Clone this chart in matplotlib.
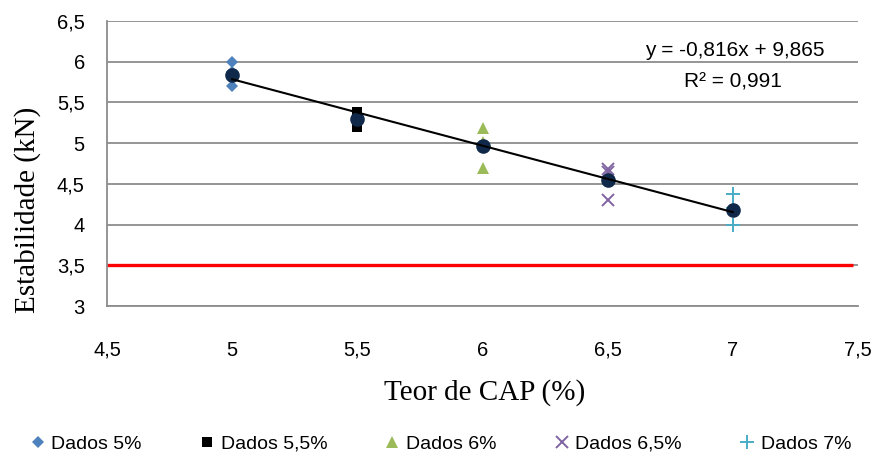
import matplotlib
matplotlib.use("Agg")
import matplotlib.pyplot as plt
import numpy as np

# Data
teor = [5.0, 5.5, 6.0, 6.5, 7.0]
dados_5 = [6.00, 5.87, 5.70]
dados_55 = [5.38, 5.30, 5.20]
dados_6 = [5.18, 5.02, 4.70]
dados_65 = [4.68, 4.64, 4.30]
dados_7 = [4.38, 4.20, 4.00]
medias = [5.84, 5.30, 4.96, 4.55, 4.18]
slope = -0.816
intercept = 9.865
limite = 3.5
series_labels = ["Dados 5%", "Dados 5,5%", "Dados 6%", "Dados 6,5%", "Dados 7%"]
x_ticks = [4.5, 5, 5.5, 6, 6.5, 7, 7.5]
y_ticks = [3, 3.5, 4, 4.5, 5, 5.5, 6, 6.5]

sans = ["Liberation Sans", "DejaVu Sans"]
serif = ["Liberation Serif", "DejaVu Serif"]

def fmt(v):
    return ("%g" % v).replace(".", ",")

W, H = 876, 457
fig = plt.figure(figsize=(W / 100, H / 100), dpi=100)
ax = fig.add_axes([107 / W, 1 - 306 / H, 751 / W, 285 / H])

grid_c = "#8c8c8c"
for yv in y_ticks:
    ax.axhline(yv, color=grid_c, lw=1.3, zorder=1)

ax.plot([4.5, 7.48], [limite, limite], color="#ff0000", lw=2.4, zorder=2, solid_capstyle="butt")

styles = [
    dict(marker="D", color="#4f81bd", ms=6, mew=0),
    dict(marker="s", color="#000000", ms=7, mew=0),
    dict(marker="^", color="#9bbb59", ms=9, mew=0),
    dict(marker="x", color="#8064a2", ms=9, mew=1.4),
    dict(marker="+", color="#4bacc6", ms=10, mew=1.4),
]
all_data = [dados_5, dados_55, dados_6, dados_65, dados_7]
handles = []
for xv, d, st, lab in zip(teor, all_data, styles, series_labels):
    h, = ax.plot([xv] * len(d), d, linestyle="none", marker=st["marker"], color=st["color"],
                 ms=st["ms"], mew=st["mew"], label=lab, zorder=3)
    handles.append(h)

ax.plot(teor, medias, linestyle="none", marker="o", color="#10294a", ms=9.5, zorder=4)

xr = np.array([teor[0], teor[-1]])
ax.plot(xr, slope * xr + intercept, color="black", lw=1.5, zorder=5)

ax.set_xlim(4.5, 7.5)
ax.set_ylim(3, 6.5)
ax.set_xticks(x_ticks)
ax.set_yticks(y_ticks)
ax.set_xticklabels([fmt(v) for v in x_ticks], family=sans, fontsize=14.5)
ax.set_yticklabels([fmt(v) for v in y_ticks], family=sans, fontsize=14.5)
ax.tick_params(axis="y", length=0, pad=16)
ax.tick_params(axis="x", length=0, pad=25)
for s in ["top", "right"]:
    ax.spines[s].set_visible(False)
for s in ["left", "bottom"]:
    ax.spines[s].set_color(grid_c)
    ax.spines[s].set_linewidth(1.3)

fig.text(485 / W, 1 - 393 / H, "Teor de CAP (%)", family=serif, fontsize=21, ha="center", va="center")
fig.text(28 / W, 1 - 210 / H, "Estabilidade (kN)", family=serif, fontsize=21, ha="center", va="center",
         rotation=90)

fig.text(735 / W, 1 - 50 / H, "y = -0,816x + 9,865", family=sans, fontsize=15, ha="center", va="center")
fig.text(733 / W, 1 - 82 / H, "R² = 0,991", family=sans, fontsize=15, ha="center", va="center")

fig.legend(handles=handles, labels=series_labels, loc="center", bbox_to_anchor=(441 / W, 1 - 444 / H),
           ncol=5, frameon=False, prop={"family": sans, "size": 14}, handlelength=0.7,
           handletextpad=0.35, columnspacing=3.0, markerscale=1.0, borderaxespad=0,
           borderpad=0)

fig.savefig("out.png", dpi=100)
